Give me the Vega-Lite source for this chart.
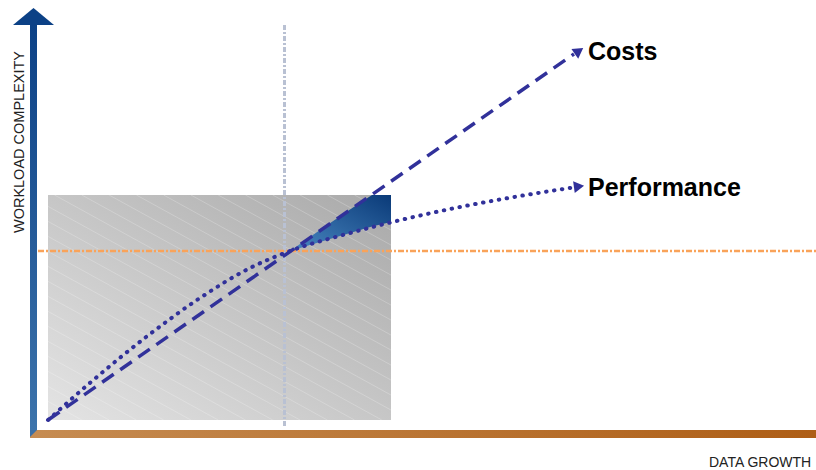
{
  "$schema": "https://vega.github.io/schema/vega-lite/v6.json",
  "width": 816,
  "height": 470,
  "autosize": {"type": "none"},
  "padding": 0,
  "background": "white",
  "config": {"view": {"stroke": null}, "axis": {"disable": true}},
  "datasets": {
    "grayRect": [{"x": 48, "x2": 391, "y": 195, "y2": 420}],
    "hatch": [
      {"x": 354.5, "y": 195, "x2": 391, "y2": 215.05},
      {"x": 327.3, "y": 195, "x2": 391, "y2": 230.05},
      {"x": 300, "y": 195, "x2": 391, "y2": 245.05},
      {"x": 272.7, "y": 195, "x2": 391, "y2": 260.05},
      {"x": 245.5, "y": 195, "x2": 391, "y2": 275.05},
      {"x": 218.2, "y": 195, "x2": 391, "y2": 290.05},
      {"x": 190.9, "y": 195, "x2": 391, "y2": 305.05},
      {"x": 163.6, "y": 195, "x2": 391, "y2": 320.05},
      {"x": 136.4, "y": 195, "x2": 391, "y2": 335.05},
      {"x": 109.1, "y": 195, "x2": 391, "y2": 350.05},
      {"x": 81.8, "y": 195, "x2": 391, "y2": 365.05},
      {"x": 54.5, "y": 195, "x2": 391, "y2": 380.05},
      {"x": 48, "y": 206.4, "x2": 391, "y2": 395.05},
      {"x": 48, "y": 221.4, "x2": 391, "y2": 410.05},
      {"x": 48, "y": 236.4, "x2": 381.8, "y2": 420},
      {"x": 48, "y": 251.4, "x2": 354.5, "y2": 420},
      {"x": 48, "y": 266.4, "x2": 327.3, "y2": 420},
      {"x": 48, "y": 281.4, "x2": 300, "y2": 420},
      {"x": 48, "y": 296.4, "x2": 272.7, "y2": 420},
      {"x": 48, "y": 311.4, "x2": 245.5, "y2": 420},
      {"x": 48, "y": 326.4, "x2": 218.2, "y2": 420},
      {"x": 48, "y": 341.4, "x2": 190.9, "y2": 420},
      {"x": 48, "y": 356.4, "x2": 163.6, "y2": 420},
      {"x": 48, "y": 371.4, "x2": 136.4, "y2": 420},
      {"x": 48, "y": 386.4, "x2": 109.1, "y2": 420},
      {"x": 48, "y": 401.4, "x2": 81.8, "y2": 420}
    ],
    "vline": [{"x": 284.5, "y": 25, "y2": 428}],
    "hline": [{"x": 38, "x2": 816, "y": 251}],
    "wedge": [
      {"x": 290, "y": 251, "y2": 251},
      {"x": 320, "y": 230, "y2": 242},
      {"x": 350, "y": 209.5, "y2": 233},
      {"x": 372, "y": 195, "y2": 226.5},
      {"x": 391, "y": 195, "y2": 222}
    ],
    "perf": [
      {"x": 48, "y": 420},
      {"x": 91, "y": 382},
      {"x": 150, "y": 334},
      {"x": 200, "y": 298},
      {"x": 250, "y": 268},
      {"x": 290, "y": 251},
      {"x": 350, "y": 233},
      {"x": 405, "y": 219},
      {"x": 460, "y": 207},
      {"x": 520, "y": 196},
      {"x": 573, "y": 187.5}
    ],
    "costs": [{"x": 48, "y": 420}, {"x": 574, "y": 54}],
    "costArrow": [{"x": 579, "y": 51}],
    "perfArrow": [{"x": 579, "y": 186.5}],
    "xBar": [{"x": 30, "x2": 816, "y": 430, "y2": 438}],
    "yBar": [{"x": 30, "x2": 37, "y": 24, "y2": 430}],
    "yCorner": [{"x": 30, "y": 430, "y2": 437}, {"x": 37, "y": 430, "y2": 430}],
    "yHead": [{"x": 13, "y": 25, "y2": 25}, {"x": 33.5, "y": 8, "y2": 25}, {"x": 54, "y": 25, "y2": 25}],
    "labels": [{"x": 588, "y": 59.5, "t": "Costs"}, {"x": 588, "y": 196, "t": "Performance"}],
    "ytitle": [{"x": 20, "y": 142, "t": "WORKLOAD COMPLEXITY"}],
    "xtitle": [{"x": 709, "y": 467, "t": "DATA GROWTH"}]
  },
  "encoding": {
    "x": {"field": "x", "type": "quantitative", "scale": {"domain": [0, 816], "nice": false, "zero": false}},
    "y": {"field": "y", "type": "quantitative", "scale": {"domain": [0, 470], "nice": false, "zero": false, "reverse": true}}
  },
  "layer": [
    {
      "data": {"name": "grayRect"},
      "mark": {"type": "rect", "color": {"gradient": "linear", "x1": 0, "y1": 1, "x2": 1, "y2": 0, "stops": [{"offset": 0, "color": "#e4e4e4"}, {"offset": 1, "color": "#a9a9a9"}]}},
      "encoding": {"x2": {"field": "x2"}, "y2": {"field": "y2"}}
    },
    {
      "data": {"name": "hatch"},
      "mark": {"type": "rule", "color": "#ffffff", "opacity": 0.22, "strokeWidth": 1},
      "encoding": {"x2": {"field": "x2"}, "y2": {"field": "y2"}}
    },
    {
      "data": {"name": "vline"},
      "mark": {"type": "rule", "color": "#b9c1d3", "strokeWidth": 3, "strokeDash": [5, 2, 2, 2]},
      "encoding": {"y2": {"field": "y2"}}
    },
    {
      "data": {"name": "hline"},
      "mark": {"type": "rule", "color": "#f9a35a", "strokeWidth": 2.5, "strokeDash": [6, 2, 2, 2]},
      "encoding": {"x2": {"field": "x2"}}
    },
    {
      "data": {"name": "wedge"},
      "mark": {"type": "area", "interpolate": "linear", "color": {"gradient": "linear", "x1": 1, "y1": 0, "x2": 0, "y2": 1, "stops": [{"offset": 0, "color": "#0a3a78"}, {"offset": 1, "color": "#4a88c2"}]}},
      "encoding": {"y2": {"field": "y2"}}
    },
    {
      "data": {"name": "perf"},
      "mark": {"type": "line", "interpolate": "monotone", "color": "#31319a", "strokeWidth": 4, "strokeCap": "round", "strokeDash": [0.5, 7.5]},
      "encoding": {}
    },
    {
      "data": {"name": "costs"},
      "mark": {"type": "line", "color": "#31319a", "strokeWidth": 3.5, "strokeDash": [14, 8]},
      "encoding": {}
    },
    {
      "data": {"name": "costArrow"},
      "mark": {"type": "point", "shape": "triangle-right", "filled": true, "opacity": 1, "color": "#31319a", "size": 140, "angle": -35},
      "encoding": {}
    },
    {
      "data": {"name": "perfArrow"},
      "mark": {"type": "point", "shape": "triangle-right", "filled": true, "opacity": 1, "color": "#31319a", "size": 140, "angle": -8},
      "encoding": {}
    },
    {
      "data": {"name": "xBar"},
      "mark": {"type": "rect", "color": {"gradient": "linear", "x1": 0, "y1": 0, "x2": 1, "y2": 0, "stops": [{"offset": 0, "color": "#c68c52"}, {"offset": 1, "color": "#ae5e16"}]}},
      "encoding": {"x2": {"field": "x2"}, "y2": {"field": "y2"}}
    },
    {
      "data": {"name": "yBar"},
      "mark": {"type": "rect", "color": {"gradient": "linear", "x1": 0, "y1": 0, "x2": 0, "y2": 1, "stops": [{"offset": 0, "color": "#0c4186"}, {"offset": 1, "color": "#3c73ab"}]}},
      "encoding": {"x2": {"field": "x2"}, "y2": {"field": "y2"}}
    },
    {
      "data": {"name": "yCorner"},
      "mark": {"type": "area", "color": "#3a6fa6"},
      "encoding": {"y2": {"field": "y2"}}
    },
    {
      "data": {"name": "yHead"},
      "mark": {"type": "area", "interpolate": "linear", "color": "#0c4186"},
      "encoding": {"y2": {"field": "y2"}}
    },
    {
      "data": {"name": "labels"},
      "mark": {"type": "text", "font": "Liberation Sans", "fontWeight": "bold", "fontSize": 25, "align": "left", "baseline": "alphabetic", "color": "#000000"},
      "encoding": {"text": {"field": "t"}}
    },
    {
      "data": {"name": "ytitle"},
      "mark": {"type": "text", "font": "Liberation Sans", "fontSize": 14.5, "angle": 270, "align": "center", "baseline": "middle", "color": "#222222"},
      "encoding": {"text": {"field": "t"}}
    },
    {
      "data": {"name": "xtitle"},
      "mark": {"type": "text", "font": "Liberation Sans", "fontSize": 14, "align": "left", "baseline": "alphabetic", "color": "#222222"},
      "encoding": {"text": {"field": "t"}}
    }
  ]
}
